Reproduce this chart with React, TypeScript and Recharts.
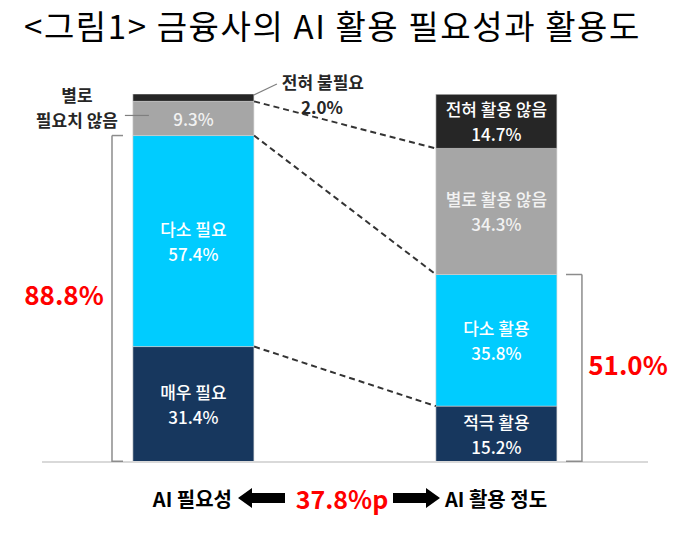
import React from 'react';
import { ComposedChart, Bar, XAxis, YAxis, LabelList, ReferenceLine } from 'recharts';

const categories = ['AI 필요성', 'AI 활용 정도'];
const needNames = ['매우 필요', '다소 필요', '별로 필요치 않음', '전혀 불필요'];
const needValues = [31.4, 57.4, 9.3, 2.0];
const useNames = ['적극 활용', '다소 활용', '별로 활용 않음', '전혀 활용 않음'];
const useValues = [15.2, 35.8, 34.3, 14.7];
// where each segment's label goes
const needLabelPos = ['inside', 'inside', 'left', 'top'];
const useLabelPos = ['inside', 'inside', 'inside', 'inside'];

const levelColors = ['#17375e', '#00ccff', '#a6a6a6', '#262626'];
const levelTextColors = ['#ffffff', '#ffffff', '#f2f2f2', '#ffffff'];

const FONT = '"Noto Sans CJK KR", "Noto Sans", sans-serif';
const GAP = 0.3; // barCategoryGap as fraction of band

const sum = (a: number[]) => a.reduce((s, v) => s + v, 0);
const cum = (a: number[], k: number) => sum(a.slice(0, k));

const data = categories.map((cat, i) => {
  const vals = i === 0 ? needValues : useValues;
  const row: any = { cat };
  vals.forEach((v, k) => (row['s' + k] = v));
  return row;
});

const yMax = Math.max(sum(needValues), sum(useValues));
const needTop = cum(needValues, 2);
const useTop = cum(useValues, 2);

// bar edges on a 0..1 helper axis spanning the plot
const leftBarRight = 0.5 - GAP / 2;
const rightBarLeft = 0.5 + GAP / 2;

const connectors = [3, 2, 1].map((k) => [cum(needValues, k), cum(useValues, k)]);

function makeLabel(level: number) {
  return (props: any) => {
    const { x, y, width, height, index, value } = props;
    const pos = (index === 0 ? needLabelPos : useLabelPos)[level];
    const name = (index === 0 ? needNames : useNames)[level];
    const pct = Number(value).toFixed(1) + '%';
    const cx = x + width / 2;
    const cy = y + height / 2;
    const fill = levelTextColors[level];
    if (pos === 'inside') {
      return (
        <g fontFamily={FONT} fontSize={17} fontWeight={500} fill={fill} textAnchor="middle">
          <text x={cx} y={cy - 12.5} dominantBaseline="central">{name}</text>
          <text x={cx} y={cy + 12.5} dominantBaseline="central">{pct}</text>
        </g>
      );
    }
    if (pos === 'left') {
      const parts = name.split(' ');
      const first = parts[0];
      const rest = parts.slice(1).join(' ');
      return (
        <g fontFamily={FONT} fontSize={17}>
          <text x={cx} y={cy} dominantBaseline="central" textAnchor="middle" fontWeight={500} fill={fill}>{pct}</text>
          <line x1={x - 8} x2={x + 16} y1={cy - 3} y2={cy - 3} stroke="#7f7f7f" strokeWidth={1.2} />
          <text x={x - 56} y={cy - 24} dominantBaseline="central" textAnchor="middle" fontWeight={700} fill="#262626">{first}</text>
          <text x={x - 56} y={cy + 1} dominantBaseline="central" textAnchor="middle" fontWeight={700} fill="#262626">{rest}</text>
        </g>
      );
    }
    // top: outside, upper right
    const rx = x + width;
    return (
      <g fontFamily={FONT} fontSize={17} fontWeight={700} fill="#262626">
        <line x1={rx} y1={y + 1} x2={rx + 23} y2={y - 10} stroke="#7f7f7f" strokeWidth={1.2} />
        <text x={rx + 69} y={y - 13} dominantBaseline="central" textAnchor="middle">{name}</text>
        <text x={rx + 68} y={y + 12} dominantBaseline="central" textAnchor="middle">{pct}</text>
      </g>
    );
  };
}

function bracket(xv: number, xt: number, top: number, key: string) {
  const st = { stroke: '#8c8c8c', strokeWidth: 1.5 };
  return [
    <ReferenceLine key={key + 'v'} xAxisId="conn" segment={[{ x: xv, y: top }, { x: xv, y: 0 }]} {...st} />,
    <ReferenceLine key={key + 't'} xAxisId="conn" segment={[{ x: xv, y: top }, { x: xt, y: top }]} {...st} />,
    <ReferenceLine key={key + 'b'} xAxisId="conn" segment={[{ x: xv, y: 0.2 }, { x: xt, y: 0.2 }]} {...st} />,
  ];
}

function Arrow({ tip, tail, cy }: { tip: number; tail: number; cy: number }) {
  const d = tip < tail ? 1 : -1;
  const hx = tip + d * 14;
  const pts = [
    [tip, cy], [hx, cy - 10], [hx, cy - 5], [tail, cy - 5],
    [tail, cy + 5], [hx, cy + 5], [hx, cy + 10],
  ].map((p) => p.join(',')).join(' ');
  return <polygon points={pts} fill="#000000" />;
}

export default function App() {
  const needTotalText = needTop.toFixed(1) + '%';
  const useTotalText = useTop.toFixed(1) + '%';
  const diffText = (needTop - useTop).toFixed(1) + '%p';
  return (
    <div style={{ position: 'absolute', left: 0, top: 0, width: 700, height: 544, background: '#fff' }}>
      <ComposedChart
        width={700}
        height={544}
        data={data}
        margin={{ top: 94, right: 52, bottom: 82, left: 42 }}
        barCategoryGap={`${GAP * 100}%`}
      >
        <XAxis dataKey="cat" hide />
        <XAxis xAxisId="conn" type="number" domain={[0, 1]} allowDataOverflow hide />
        <YAxis hide domain={[0, yMax]} allowDataOverflow />
        <ReferenceLine y={0} stroke="#d9d9d9" strokeWidth={2} />
        {bracket(0.1155, 0.1337, needTop, 'lb')}
        {bracket(0.891, 0.8647, useTop, 'rb')}
        {connectors.map(([a, b], i) => (
          <ReferenceLine
            key={'c' + i}
            xAxisId="conn"
            segment={[{ x: leftBarRight, y: a }, { x: rightBarLeft, y: b }]}
            stroke="#333333"
            strokeWidth={2}
            strokeDasharray="6 4"
          />
        ))}
        {levelColors.map((c, k) => (
          <Bar
            key={k}
            dataKey={'s' + k}
            stackId="a"
            fill={c}
            stroke="#d0d0d0"
            strokeWidth={0.6}
            isAnimationActive={false}
          >
            <LabelList dataKey={'s' + k} content={makeLabel(k)} />
          </Bar>
        ))}
      </ComposedChart>
      <svg
        width={700}
        height={544}
        style={{ position: 'absolute', left: 0, top: 0, pointerEvents: 'none' }}
        fontFamily={FONT}
      >
        <text x={24} y={38.5} fontSize={33} fill="#000" letterSpacing={1.6}>
          {'<그림1> 금융사의 AI 활용 필요성과 활용도'}
        </text>
        <text x={64} y={293} fontSize={26} fontWeight={700} fill="#ff0000" textAnchor="middle" dominantBaseline="central">
          {needTotalText}
        </text>
        <text x={628} y={363} fontSize={26} fontWeight={700} fill="#ff0000" textAnchor="middle" dominantBaseline="central">
          {useTotalText}
        </text>
        <text x={232} y={498} fontSize={20} fontWeight={700} fill="#000" textAnchor="end" dominantBaseline="central">
          {categories[0]}
        </text>
        <Arrow tip={238} tail={285} cy={498} />
        <text x={342} y={498} fontSize={25} fontWeight={700} fill="#ff0000" textAnchor="middle" dominantBaseline="central">
          {diffText}
        </text>
        <Arrow tip={440} tail={393} cy={498} />
        <text x={445} y={498} fontSize={20} fontWeight={700} fill="#000" textAnchor="start" dominantBaseline="central">
          {categories[1]}
        </text>
      </svg>
    </div>
  );
}
